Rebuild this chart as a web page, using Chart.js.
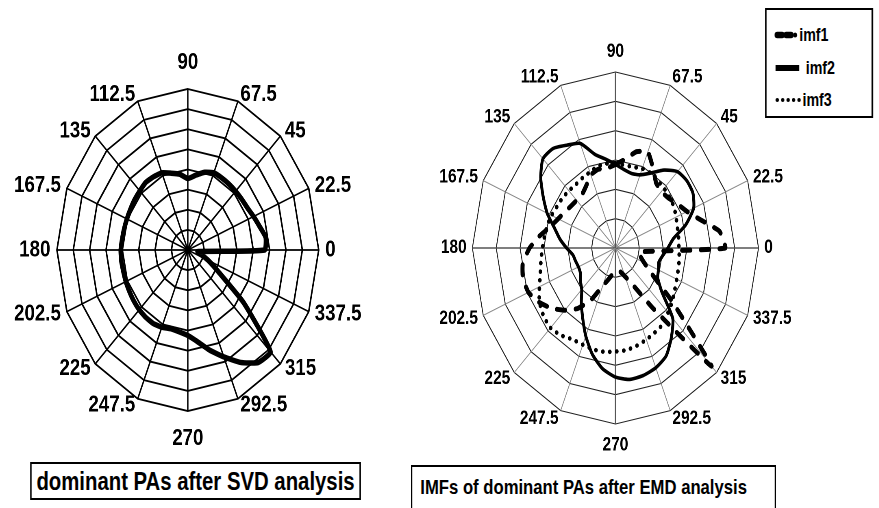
<!DOCTYPE html>
<html><head><meta charset="utf-8">
<script src="https://cdn.jsdelivr.net/npm/chart.js@4.4.1/dist/chart.umd.min.js"></script>
<style>
html,body{margin:0;padding:0;background:#fff;width:879px;height:508px;overflow:hidden}
#stage{position:absolute;left:0;top:0;width:1082px;height:508px;transform:scaleX(0.813);transform-origin:0 0;font-family:"Liberation Sans",Arial,sans-serif;color:#000}
canvas{position:absolute}
.box{position:absolute;border:2px solid #000;box-sizing:border-box;font-weight:bold;white-space:nowrap;background:#fff}
#legend{position:absolute;border:2px solid #000;box-sizing:border-box;background:#fff}
#legend span{position:absolute;font-weight:bold;font-size:17.5px;line-height:20px}
#legend svg{position:absolute;left:0;top:0}
</style></head><body>
<div id="stage">
  <canvas id="gridL"></canvas><canvas id="dataL"></canvas>
  <canvas id="gridR"></canvas><canvas id="dataR"></canvas>
  <div class="box" id="capL" style="left:37px;top:462px;width:407px;height:38px;font-size:25px;line-height:34px;text-align:center">dominant PAs after SVD analysis</div>
  <div class="box" id="capR" style="left:505px;top:465px;width:450px;height:50px;font-size:20.5px;line-height:40px;padding-left:10px">IMFs of dominant PAs after EMD analysis</div>
  <div id="legend" style="left:941px;top:8px;width:133px;height:110px">
    <svg width="133" height="110">
      <line x1="13" y1="25" x2="19" y2="25" stroke="#000" stroke-width="6.5" stroke-linecap="round"/>
      <line x1="24" y1="25" x2="30" y2="25" stroke="#000" stroke-width="6.5" stroke-linecap="round"/>
      <circle cx="35" cy="25" r="2.6" fill="#000"/>
      <line x1="11" y1="58" x2="40" y2="58" stroke="#000" stroke-width="6"/>
      <line x1="13" y1="90" x2="40" y2="90" stroke="#000" stroke-width="4.2" stroke-dasharray="0.1 6.6" stroke-linecap="round"/>
    </svg>
    <span style="left:40px;top:15px">imf1</span>
    <span style="left:48px;top:48px">imf2</span>
    <span style="left:44px;top:80px">imf3</span>
  </div>
</div>
<script>
// ---- tick labels (clockwise from top, as drawn) ----
const tickLabels = ['90','67.5','45','22.5','0','337.5','315','292.5','270','247.5','225','202.5','180','167.5','135','112.5'];
const tickAngles = [90,67.5,45,22.5,0,-22.5,-45,-67.5,-90,-112.5,-135,-157.5,180,157.5,135,112.5];

// ---- categories: polar angle (deg) of every sample, clockwise from top ----
const angles = [90,82.5,75,67.5,60,52.5,45,37.5,30,22.5,15,7.5,0,352.5,345,337.5,330,322.5,315,307.5,300,292.5,285,277.5,
                270,262.5,255,247.5,240,232.5,225,217.5,210,202.5,195,187.5,180,172.5,165,157.5,150,142.5,135,127.5,120,112.5,105,97.5];

// ---- left plot: dominant PAs after SVD ----
const svd = [3.55,3.75,4.0,4.15,4.14,4.13,4.13,4.15,4.2,4.35,4.54,4.8,4.7,0.6,0.85,1.35,2.15,4.3,7.15,7.05,6.45,5.75,5.15,4.6,
             4.25,4.1,4.05,4.15,4.22,4.22,4.2,4.16,4.12,4.1,4.08,4.1,4.1,4.05,4.03,4.03,4.05,4.1,4.15,4.23,4.2,4.15,3.95,3.8];

// ---- right plot: IMFs after EMD ----
const imf1 = [2.85,3.05,3.4,3.55,3.15,2.8,2.72,2.8,3.0,3.25,3.7,4.4,4.6,1.0,1.08,1.3,1.75,3.0,5.7,2.6,1.45,1.05,0.85,0.78,
              0.82,0.9,1.1,1.4,2.05,2.6,3.0,3.38,3.7,3.95,4.02,3.92,3.6,3.2,2.82,2.6,2.45,2.35,2.3,2.3,2.45,2.7,2.78,2.74];
const imf2 = [2.85,2.7,2.63,2.7,2.95,3.35,3.68,3.77,3.75,3.55,3.05,2.45,2.2,2.0,1.88,1.95,2.05,2.45,3.4,3.85,4.25,4.42,4.5,4.52,
              4.4,4.15,3.75,3.25,2.75,2.35,2.0,1.85,1.7,1.68,1.73,1.8,2.05,2.35,2.65,3.1,3.5,3.95,4.3,4.28,4.05,3.86,3.3,3.05];
const imf3 = [2.89,2.85,2.86,2.93,2.95,2.9,2.88,2.85,2.83,2.75,2.69,2.67,2.66,2.7,2.73,2.78,2.87,3.0,3.12,3.27,3.32,3.38,3.45,3.51,
              3.53,3.57,3.58,3.57,3.6,3.75,3.85,3.8,3.68,3.45,3.26,3.15,3.06,3.0,2.96,2.9,2.83,2.8,2.76,2.73,2.76,2.8,2.88,2.9];

const seriesNames = ['imf1','imf2','imf3'];

// labels drawn Excel-style next to each outer vertex, positioned from the radial scale
const spokeLabels = {
  id: 'spokeLabels',
  afterDraw(chart, args, o) {
    const sc = chart.scales.r, ctx = chart.ctx;
    ctx.save();
    ctx.font = o.font; ctx.fillStyle = '#000'; ctx.textBaseline = 'middle';
    o.labels.forEach((txt, i) => {
      const a = o.angles[i] * Math.PI / 180, c = Math.cos(a), s = Math.sin(a);
      const v = sc.getPointPosition(i, sc.drawingArea);
      let x = v.x, y = v.y;
      if (Math.abs(c) < 0.01) { ctx.textAlign = 'center'; y += s > 0 ? -o.vTop : o.vBottom; }
      else { ctx.textAlign = c > 0 ? 'left' : 'right'; x += (c > 0 ? 1 : -1) * o.hGap * Math.abs(c); y -= o.k * s; }
      ctx.fillText(txt, x, y);
    });
    ctx.restore();
  }
};

function place(id, w, h, left, top) {
  const el = document.getElementById(id);
  el.width = w; el.height = h;
  el.style.left = left + 'px'; el.style.top = top + 'px';
  return el;
}

function gridChart(id, w, h, left, top, pad, max, grid, angleLines, labelOpts) {
  return new Chart(place(id, w, h, left, top), {
    type: 'radar',
    data: { labels: tickLabels, datasets: [] },
    options: {
      responsive: false, animation: false, devicePixelRatio: 2,
      layout: { padding: pad },
      plugins: { legend: { display: false }, tooltip: { enabled: false }, spokeLabels: labelOpts },
      scales: { r: { min: 0, max: max, ticks: { display: false, stepSize: 1 }, pointLabels: { display: false },
        grid: Object.assign({ circular: false }, grid), angleLines: angleLines } }
    },
    plugins: [spokeLabels]
  });
}

function dataChart(id, w, h, left, top, pad, max, datasets) {
  return new Chart(place(id, w, h, left, top), {
    type: 'radar',
    data: { labels: angles.map(String), datasets: datasets },
    options: {
      responsive: false, animation: false, devicePixelRatio: 2,
      layout: { padding: pad },
      plugins: { legend: { display: false }, tooltip: { enabled: false } },
      elements: { point: { radius: 0, hoverRadius: 0 } },
      scales: { r: { min: 0, max: max, ticks: { display: false, stepSize: 1 }, pointLabels: { display: false },
        grid: { display: false }, angleLines: { display: false } } }
    }
  });
}

// ---- left plot ----
const padL = { left: 79, right: 79, top: 59, bottom: 59 };
gridChart('gridL', 480, 440, -8.8, 30, padL, 8,
  { color: '#000', lineWidth: 1.9 }, { color: '#000', lineWidth: 1.7 },
  { labels: tickLabels, angles: tickAngles, font: 'bold 23px "Liberation Sans", Arial, sans-serif', vTop: 26.5, vBottom: 27.5, hGap: 8, k: 7 });
dataChart('dataL', 480, 440, -8.8, 30, padL, 8, [
  { label: 'SVD', data: svd, borderColor: '#000', borderWidth: 5.5, fill: false, tension: 0.15, backgroundColor: 'transparent' }
]);

// ---- right plot ----
const padR = { left: 84, right: 84, top: 59, bottom: 59 };
gridChart('gridR', 520, 470, 496.5, 13, padR, 6,
  { color: '#222', lineWidth: 1.1 },
  { color: (c) => (c.index % 4 === 0 ? '#555' : '#8c8c8c'), lineWidth: (c) => (c.index % 4 === 0 ? 1.6 : 1) },
  { labels: tickLabels, angles: tickAngles, font: 'bold 19px "Liberation Sans", Arial, sans-serif', vTop: 20, vBottom: 21.5, hGap: 7, k: 9 });
dataChart('dataR', 520, 470, 496.5, 13, padR, 6, [
  { label: seriesNames[0], data: imf1, borderColor: '#000', borderWidth: 5, borderDash: [10, 13], borderCapStyle: 'round', fill: false, tension: 0.12, backgroundColor: 'transparent' },
  { label: seriesNames[1], data: imf2, borderColor: '#000', borderWidth: 3.6, fill: false, tension: 0.2, backgroundColor: 'transparent' },
  { label: seriesNames[2], data: imf3, borderColor: '#000', borderWidth: 4.5, borderDash: [0.1, 8.5], borderCapStyle: 'round', fill: false, tension: 0.2, backgroundColor: 'transparent' }
]);
</script>
</body></html>
